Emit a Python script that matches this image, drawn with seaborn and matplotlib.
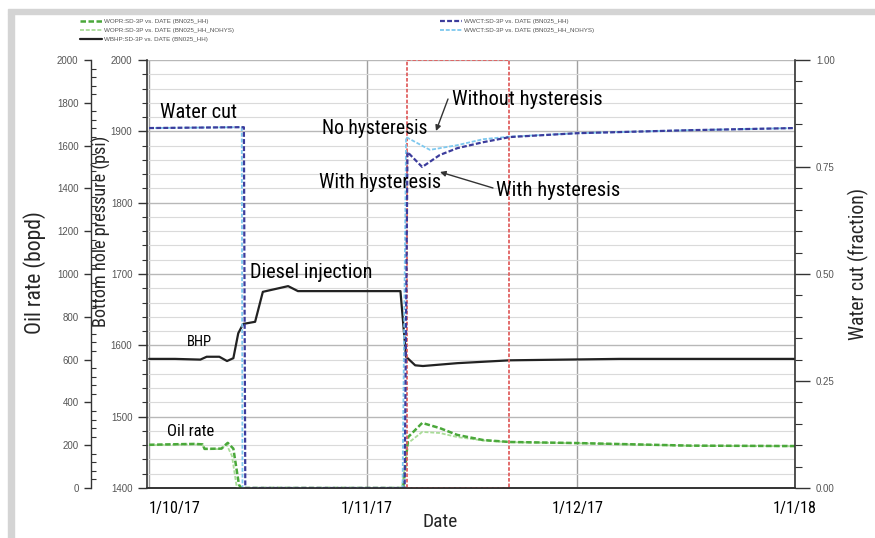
import numpy as np
import pandas as pd
import matplotlib
matplotlib.use("Agg")
import matplotlib.pyplot as plt
from matplotlib.ticker import MultipleLocator, FixedLocator, FormatStrFormatter
from matplotlib.patches import Rectangle, FancyArrowPatch
from matplotlib import font_manager as fm
import seaborn as sns

# ---------------- data (days after 1 Oct 2017) ----------------
start = pd.Timestamp("2017-10-01")

bhp_days = [0, 3.7, 7.3, 8.2, 10.0, 11.1, 12.0, 12.7, 13.4, 15.1, 16.2, 19.8, 21.2,
            35.8, 36.6, 37.9, 39.0, 43.9, 51.4, 67.0, 92.0]
bhp_psi = [1581, 1581, 1580, 1584, 1584, 1578, 1582, 1617, 1630, 1633, 1675, 1683, 1676,
           1676, 1584, 1572, 1571, 1575, 1579, 1581, 1581]

oil_hh_days = [0, 3, 6.5, 7.6, 7.9, 10.3, 11.2, 12.0, 12.8, 13.1, 36.2, 36.9, 38.9,
               41.4, 43.9, 47.6, 51.4, 61.0, 77.0, 92.0]
oil_hh = [202, 204, 206, 204, 183, 184, 211, 184, 15, 0, 0, 238, 304,
          280, 248, 224, 215, 210, 198, 196]

oil_nohys_days = [0, 3, 6.5, 7.6, 7.9, 10.3, 11.0, 11.8, 12.5, 36.0, 36.9, 38.9,
                  41.4, 43.9, 47.6, 51.4, 61.0, 77.0, 92.0]
oil_nohys = [200, 202, 204, 202, 181, 182, 205, 150, 0, 0, 210, 262,
             257, 238, 222, 214, 209, 197, 195]

wc_hh_days = [0, 12.9, 13.5, 13.7, 36.4, 36.8, 38.9, 41.4, 43.9, 47.6, 51.4, 61, 77, 92]
wc_hh = [0.841, 0.843, 0.843, 0.0, 0.0, 0.785, 0.750, 0.778, 0.794, 0.808, 0.820,
         0.829, 0.836, 0.841]

wc_nohys_days = [0, 12.9, 13.2, 13.3, 36.1, 36.6, 40.0, 43.9, 47.6, 51.4, 61, 77, 92]
wc_nohys = [0.841, 0.843, 0.843, 0.0, 0.0, 0.820, 0.790, 0.801, 0.815, 0.821,
            0.829, 0.836, 0.841]

box_days = [36.7, 51.3]

tick_dates = ["2017-10-01", "2017-11-01", "2017-12-01", "2018-01-01"]
tick_labels = ["1/10/17", "1/11/17", "1/12/17", "1/1/18"]

legend_left = ["WOPR:SD-3P vs. DATE (BN025_HH)",
               "WOPR:SD-3P vs. DATE (BN025_HH_NOHYS)",
               "WBHP:SD-3P vs. DATE (BN025_HH)"]
legend_right = ["WWCT:SD-3P vs. DATE (BN025_HH)",
                "WWCT:SD-3P vs. DATE (BN025_HH_NOHYS)"]


def to_df(days, vals):
    return pd.DataFrame({"date": start + pd.to_timedelta(days, unit="D"), "v": vals})


# ---------------- fonts ----------------
sns.set_style("white")
entries = fm.fontManager.ttflist
names = {e.name for e in entries}
narrow_family, narrow_stretch = None, "normal"
for c in ["Liberation Sans Narrow", "Arial Narrow", "Roboto Condensed",
          "Open Sans Condensed", "Noto Sans Condensed", "DejaVu Sans Condensed",
          "Noto Sans Display Condensed", "Open Sans SemiCondensed",
          "Noto Sans SemiCondensed"]:
    if c in names:
        narrow_family = c
        break
if narrow_family is None:
    for e in entries:
        if any(k in e.name for k in ("Narrow", "Condensed", "Cond")) and "CJK" not in e.name \
                and "Mono" not in e.name and "Serif" not in e.name:
            narrow_family = e.name
            break
if narrow_family is None:
    for e in entries:
        if str(e.stretch) in ("condensed", "semi-condensed", "extra-condensed") \
                and "Mono" not in e.name and "Serif" not in e.name and e.style == "normal":
            narrow_family, narrow_stretch = e.name, e.stretch
            break
if narrow_family is None:
    narrow_family = "DejaVu Sans"
NARROW = [narrow_family, "DejaVu Sans"]
plt.rcParams["font.family"] = NARROW
plt.rcParams["font.stretch"] = narrow_stretch
SMALL = ["Liberation Sans", "DejaVu Sans"]

W, H = 875, 538
fig = plt.figure(figsize=(W / 100, H / 100), dpi=100)
fig.patch.set_facecolor("white")


def fx(px):
    return px / W


def fy(py):
    return 1 - py / H


# gray frame
fig.patches.append(Rectangle((fx(8), fy(14)), 1 - fx(8), fy(9) - fy(14),
                             transform=fig.transFigure, color="#d4d4d4", zorder=0))
fig.patches.append(Rectangle((fx(8), 0), fx(14) - fx(8), fy(14),
                             transform=fig.transFigure, color="#d4d4d4", zorder=0))

L, R, T, B = 147, 795, 60, 488
ax = fig.add_axes([fx(L), fy(B), fx(R) - fx(L), fy(T) - fy(B)])
ax.set_facecolor("none")
ax_oil = ax.twinx()
ax_wc = ax.twinx()

C_OIL = "#4aa83a"
C_OIL2 = "#a9dc98"
C_BHP = "#222222"
C_WC = "#3c3c9c"
C_WC2 = "#7ec8ee"
C_RED = "#e06060"
AXC = "#333333"
TICKC = "#555555"

# ---------------- lines ----------------
sns.lineplot(data=to_df(bhp_days, bhp_psi), x="date", y="v", ax=ax,
             color=C_BHP, lw=1.6, estimator=None, sort=False)
l_bhp = ax.lines[-1]

sns.lineplot(data=to_df(oil_nohys_days, oil_nohys), x="date", y="v", ax=ax_oil,
             color=C_OIL2, lw=1.3, estimator=None, sort=False)
l_oil2 = ax_oil.lines[-1]
sns.lineplot(data=to_df(oil_hh_days, oil_hh), x="date", y="v", ax=ax_oil,
             color=C_OIL, lw=1.8, estimator=None, sort=False)
l_oil = ax_oil.lines[-1]
l_oil.set_linestyle((0, (2.2, 1.0)))
l_oil2.set_linestyle((0, (2.2, 1.0)))

sns.lineplot(data=to_df(wc_nohys_days, wc_nohys), x="date", y="v", ax=ax_wc,
             color=C_WC2, lw=1.3, estimator=None, sort=False)
l_wc2 = ax_wc.lines[-1]
sns.lineplot(data=to_df(wc_hh_days, wc_hh), x="date", y="v", ax=ax_wc,
             color=C_WC, lw=1.6, estimator=None, sort=False)
l_wc = ax_wc.lines[-1]
l_wc.set_linestyle((0, (2.2, 1.0)))
l_wc2.set_linestyle((0, (2.2, 1.0)))

# red box
b0 = start + pd.Timedelta(days=box_days[0])
b1 = start + pd.Timedelta(days=box_days[1])
ax_wc.axvspan(b0, b1, fill=False, edgecolor=C_RED, lw=1.3, ls=(0, (2, 1)), zorder=1)

# ---------------- axes ----------------
tdates = pd.to_datetime(tick_dates)
ax.set_xlim(tdates[0] - pd.Timedelta(days=0.3), tdates[-1])
ax.set_ylim(1400, 2000)
ax_oil.set_ylim(0, 2000)
ax_wc.set_ylim(0, 1.0)

ax.xaxis.set_major_locator(FixedLocator(matplotlib.dates.date2num(tdates)))
ax.set_xticklabels(tick_labels)
ax.tick_params(axis="x", which="major", direction="out", length=5, width=1,
               color=AXC, labelsize=13.5, pad=4, labelcolor="black")
xt = ax.get_xticklabels()
xt[0].set_horizontalalignment("left")

# BHP axis (host, left)
ax.yaxis.set_major_locator(MultipleLocator(100))
ax.yaxis.set_minor_locator(MultipleLocator(20))
ax.tick_params(axis="y", which="major", direction="out", length=6.5, width=1,
               color=AXC, labelsize=7, pad=4, labelcolor=TICKC, left=True)
ax.tick_params(axis="y", which="minor", direction="out", length=3.5, width=0.8,
               color=AXC, left=True)
for lab in ax.get_yticklabels():
    lab.set_family(SMALL)
    lab.set_stretch("normal")
ax.grid(True, axis="y", which="minor", color="#dadada", lw=0.8)
ax.grid(True, axis="y", which="major", color="#b8b8b8", lw=1.0)
ax.grid(True, axis="x", which="major", color="#a0a0a0", lw=1.0)
ax.set_axisbelow(True)

# Oil axis (left, offset)
ax_oil.yaxis.set_label_position("left")
ax_oil.yaxis.set_ticks_position("left")
ax_oil.spines["left"].set_position(("outward", 56 * 0.72))
ax_oil.spines["left"].set_visible(True)
ax_oil.spines["right"].set_visible(False)
ax_oil.spines["top"].set_visible(False)
ax_oil.spines["bottom"].set_visible(False)
ax_oil.yaxis.set_major_locator(MultipleLocator(200))
ax_oil.yaxis.set_minor_locator(MultipleLocator(40))
ax_oil.tick_params(axis="y", which="major", direction="out", length=5, width=1,
                   color=AXC, labelsize=7, pad=4, labelcolor=TICKC)
ax_oil.tick_params(axis="y", which="minor", direction="in", length=3.5, width=0.8,
                   color=AXC)
for lab in ax_oil.get_yticklabels():
    lab.set_family(SMALL)
    lab.set_stretch("normal")

# Water cut axis (right)
ax_wc.spines["left"].set_visible(False)
ax_wc.spines["top"].set_visible(False)
ax_wc.yaxis.set_major_locator(MultipleLocator(0.25))
ax_wc.yaxis.set_minor_locator(MultipleLocator(0.05))
ax_wc.yaxis.set_major_formatter(FormatStrFormatter("%.2f"))
ax_wc.tick_params(axis="y", which="major", direction="out", length=11, width=1,
                  color=AXC, labelsize=7, pad=4, labelcolor=TICKC)
ax_wc.tick_params(axis="y", which="minor", direction="out", length=5, width=0.8,
                  color=AXC)
for lab in ax_wc.get_yticklabels():
    lab.set_family(SMALL)
    lab.set_stretch("normal")

for a in (ax, ax_oil, ax_wc):
    for s in a.spines.values():
        s.set_color(AXC)
        s.set_linewidth(1.2)
ax.spines["top"].set_visible(False)
ax.spines["right"].set_visible(False)
ax_oil.spines["left"].set_linewidth(1.0)
ax_oil.set_facecolor("none")
ax_wc.set_facecolor("none")

# axis labels
ax.set_xlabel("Date", fontsize=14.5, va="center")
ax.xaxis.set_label_coords((440 - L) / (R - L), (B - 522) / (B - T))
ax.set_ylabel("Bottom hole pressure (psi)", fontsize=14.5, va="center")
ax.yaxis.set_label_coords((101 - L) / (R - L), (B - 231) / (B - T))
ax_oil.set_ylabel("Oil rate (bopd)", fontsize=16, va="center")
ax_oil.yaxis.set_label_coords((35 - L) / (R - L), (B - 273) / (B - T))
ax_wc.set_ylabel("Water cut (fraction)", fontsize=15.5, va="center", rotation=90)
ax_wc.yaxis.set_label_coords((858 - L) / (R - L), (B - 264) / (B - T))

# ---------------- annotations ----------------
notes = []


def note(txt, cx, cy, width, size=15.5):
    t = fig.text(fx(cx), fy(cy), txt, fontsize=size, ha="center", va="center",
                 color="black")
    notes.append((t, width, False))
    return t

note("Water cut", 198, 112, 77)
note("Diesel injection", 311, 272, 122)
note("BHP", 199, 342, 25, 13)
note("Oil rate", 191, 432, 47, 13)
note("No hysteresis", 375, 128, 105)
note("With hysteresis", 380, 182, 122)
note("Without hysteresis", 527, 100, 150)
note("With hysteresis", 558, 190, 123)

ap = dict(arrowstyle="-|>", color="#333333", lw=1.0, mutation_scale=8,
          shrinkA=0, shrinkB=0)
fig.add_artist(FancyArrowPatch((fx(448), fy(99)), (fx(436), fy(131)),
                               transform=fig.transFigure, **ap))
fig.add_artist(FancyArrowPatch((fx(493), fy(188)), (fx(440), fy(172)),
                               transform=fig.transFigure, **ap))

notes.append((ax.xaxis.label, 35, False))
notes.append((ax.yaxis.label, 192, True))
notes.append((ax_oil.yaxis.label, 123, True))
notes.append((ax_wc.yaxis.label, 152, True))

# ---------------- legends ----------------
leg_kw = dict(frameon=False, handlelength=3.5, handletextpad=0.3,
              labelspacing=0.55, borderaxespad=0, borderpad=0, labelcolor="#555555",
              prop={"family": SMALL, "size": 4.5})
fig.legend([l_oil, l_oil2, l_bhp], legend_left, loc="upper left",
           bbox_to_anchor=(fx(80), fy(19)), **leg_kw)
fig.legend([l_wc, l_wc2], legend_right, loc="upper left",
           bbox_to_anchor=(fx(440), fy(19)), **leg_kw)

# fit text sizes to the measured widths of the reference
fig.canvas.draw()
rend = fig.canvas.get_renderer()
for t, target, vertical in notes:
    bb = t.get_window_extent(rend)
    cur = bb.height if vertical else bb.width
    if cur > 0:
        t.set_fontsize(t.get_fontsize() * target / cur)
# x tick labels: "1/12/17" ~52 px wide
bb = xt[2].get_window_extent(rend)
if bb.width > 0:
    ax.tick_params(axis="x", labelsize=13.5 * 52 / bb.width)

fig.savefig("out.png", dpi=100)
